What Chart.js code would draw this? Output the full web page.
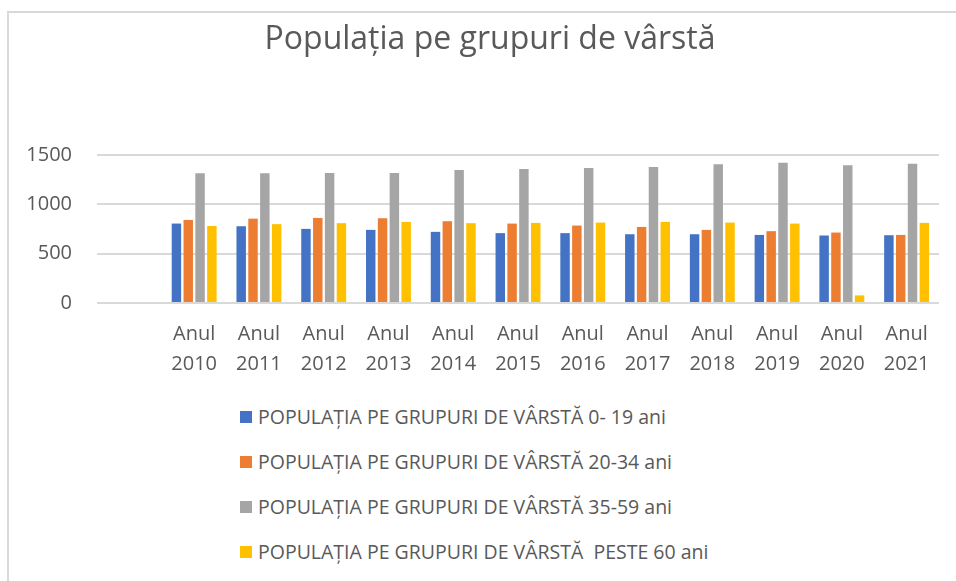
<!DOCTYPE html>
<html lang="ro">
<head>
  <meta charset="UTF-8">
  <title>Populația pe grupuri de vârstă</title>
  <script src="https://cdn.jsdelivr.net/npm/chart.js"></script>
  <style>
    html, body {
      margin: 0;
      padding: 0;
      background: #fff;
      overflow: hidden;
      width: 956px;
      height: 581px;
    }
    #cadru {
      position: absolute;
      left: 7px;
      top: 11px;
      width: 1000px;
      height: 700px;
      border-left: 2px solid #d9d9d9;
      border-top: 2px solid #d9d9d9;
    }
    #zona {
      position: absolute;
      left: 0;
      top: 0;
      width: 956px;
      height: 390px;
    }
    #legenda {
      position: absolute;
      left: 240px;
      top: 394px;
      font-family: "Open Sans", sans-serif;
      font-size: 19.5px;
      color: #595959;
    }
    .item {
      height: 45px;
      display: flex;
      align-items: center;
      white-space: pre;
    }
    .patrat {
      width: 12px;
      height: 12px;
      margin-right: 6px;
    }
  </style>
</head>
<body>
  <div id="cadru"></div>
  <div id="zona"><canvas id="grafica" width="956" height="390"></canvas></div>
  <div id="legenda"></div>

  <script>
    // Datele graficului
    const ani = ['', ['Anul', '2010'], ['Anul', '2011'], ['Anul', '2012'], ['Anul', '2013'], ['Anul', '2014'], ['Anul', '2015'],
      ['Anul', '2016'], ['Anul', '2017'], ['Anul', '2018'], ['Anul', '2019'], ['Anul', '2020'], ['Anul', '2021']];
    const grupa0_19 = [null, 805, 778, 751, 741, 721, 708, 708, 697, 697, 690, 684, 687];
    const grupa20_34 = [null, 842, 855, 862, 859, 829, 805, 785, 771, 741, 728, 714, 690];
    const grupa35_59 = [null, 1314, 1314, 1317, 1317, 1348, 1358, 1368, 1378, 1405, 1422, 1395, 1412];
    const grupaPeste60 = [null, 781, 799, 809, 822, 809, 812, 815, 822, 815, 805, 77, 812];
    const etichete = [
      'POPULAȚIA PE GRUPURI DE VÂRSTĂ 0- 19 ani',
      'POPULAȚIA PE GRUPURI DE VÂRSTĂ 20-34 ani',
      'POPULAȚIA PE GRUPURI DE VÂRSTĂ 35-59 ani',
      'POPULAȚIA PE GRUPURI DE VÂRSTĂ  PESTE 60 ani'
    ];
    const culori = ['#4472c4', '#ed7d31', '#a5a5a5', '#ffc000'];

    const serii = [grupa0_19, grupa20_34, grupa35_59, grupaPeste60];
    const gri = '#595959';
    const font = 'Open Sans';

    const ctx = document.getElementById('grafica').getContext('2d');
    const grafica = new Chart(ctx, {
      type: 'bar',
      data: {
        labels: ani,
        datasets: serii.map((s, i) => ({
          label: etichete[i],
          data: s,
          backgroundColor: culori[i],
          categoryPercentage: 0.73,
          barPercentage: 0.8
        }))
      },
      options: {
        responsive: false,
        animation: false,
        layout: {
          padding: { left: 24, right: 0, top: 0, bottom: 0 }
        },
        scales: {
          x: {
            grid: { display: false, drawTicks: false },
            border: { display: false },
            ticks: {
              color: gri,
              font: { family: font, size: 20, lineHeight: 1.5 },
              padding: 16,
              maxRotation: 0,
              autoSkip: false
            },
            afterFit: (s) => { s.height = 87; }
          },
          y: {
            min: 0,
            max: 1500,
            grid: { color: '#d9d9d9', lineWidth: 2, drawTicks: false },
            border: { display: false },
            ticks: {
              stepSize: 500,
              color: gri,
              font: { family: font, size: 20 },
              padding: 25,
              callback: (v) => String(v)
            },
            afterFit: (s) => { s.width = 73; }
          },
          // axa din dreapta doar pentru spatiu
          dreapta: {
            position: 'right',
            grid: { display: false, drawTicks: false },
            border: { display: false },
            ticks: { display: false },
            afterFit: (s) => { s.width = 17; }
          }
        },
        plugins: {
          legend: { display: false },
          tooltip: { enabled: false },
          title: {
            display: true,
            text: 'Populația pe grupuri de vârstă',
            color: gri,
            font: { family: font, size: 32, weight: 'normal' },
            padding: { top: 21, bottom: 95.6 }
          }
        }
      }
    });

    // Legenda sub grafic, construită din seriile graficului
    const legenda = document.getElementById('legenda');
    grafica.data.datasets.forEach((d) => {
      const item = document.createElement('div');
      item.className = 'item';
      const patrat = document.createElement('span');
      patrat.className = 'patrat';
      patrat.style.background = d.backgroundColor;
      item.appendChild(patrat);
      item.appendChild(document.createTextNode(d.label));
      legenda.appendChild(item);
    });
  </script>
</body>
</html>
